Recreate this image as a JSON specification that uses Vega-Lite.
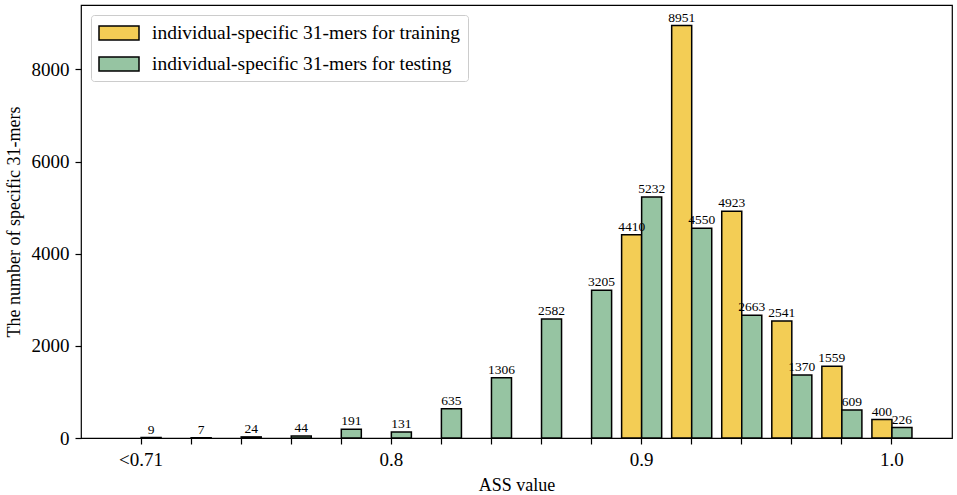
{
  "$schema": "https://vega.github.io/schema/vega-lite/v6.json",
  "width": 871,
  "height": 433,
  "autosize": "none",
  "padding": {"left": 81, "top": 5, "right": 5, "bottom": 57},
  "background": "white",
  "config": {
    "font": "Liberation Serif",
    "view": {"stroke": "black", "strokeWidth": 1.2},
    "axis": {
      "grid": false,
      "domain": false,
      "tickColor": "black",
      "tickSize": 6,
      "tickWidth": 1.2,
      "labelColor": "black",
      "labelFont": "Liberation Serif",
      "labelFontSize": 19,
      "titleFont": "Liberation Serif",
      "titleFontSize": 18,
      "titleFontWeight": "normal",
      "titleColor": "black"
    }
  },
  "data": {
    "values": [
      {"ass": "0.70", "set": "individual-specific 31-mers for testing", "count": 9},
      {"ass": "0.72", "set": "individual-specific 31-mers for testing", "count": 7},
      {"ass": "0.74", "set": "individual-specific 31-mers for testing", "count": 24},
      {"ass": "0.76", "set": "individual-specific 31-mers for testing", "count": 44},
      {"ass": "0.78", "set": "individual-specific 31-mers for testing", "count": 191},
      {"ass": "0.80", "set": "individual-specific 31-mers for testing", "count": 131},
      {"ass": "0.82", "set": "individual-specific 31-mers for testing", "count": 635},
      {"ass": "0.84", "set": "individual-specific 31-mers for testing", "count": 1306},
      {"ass": "0.86", "set": "individual-specific 31-mers for testing", "count": 2582},
      {"ass": "0.88", "set": "individual-specific 31-mers for testing", "count": 3205},
      {"ass": "0.90", "set": "individual-specific 31-mers for training", "count": 4410},
      {"ass": "0.90", "set": "individual-specific 31-mers for testing", "count": 5232},
      {"ass": "0.92", "set": "individual-specific 31-mers for training", "count": 8951},
      {"ass": "0.92", "set": "individual-specific 31-mers for testing", "count": 4550},
      {"ass": "0.94", "set": "individual-specific 31-mers for training", "count": 4923},
      {"ass": "0.94", "set": "individual-specific 31-mers for testing", "count": 2663},
      {"ass": "0.96", "set": "individual-specific 31-mers for training", "count": 2541},
      {"ass": "0.96", "set": "individual-specific 31-mers for testing", "count": 1370},
      {"ass": "0.98", "set": "individual-specific 31-mers for training", "count": 1559},
      {"ass": "0.98", "set": "individual-specific 31-mers for testing", "count": 609},
      {"ass": "1.00", "set": "individual-specific 31-mers for training", "count": 400},
      {"ass": "1.00", "set": "individual-specific 31-mers for testing", "count": 226}
    ]
  },
  "encoding": {
    "x": {
      "field": "ass",
      "type": "ordinal",
      "sort": null,
      "scale": {
        "domain": ["0.70", "0.72", "0.74", "0.76", "0.78", "0.80", "0.82", "0.84", "0.86", "0.88", "0.90", "0.92", "0.94", "0.96", "0.98", "1.00"],
        "paddingInner": 0.2,
        "paddingOuter": 0.8
      },
      "axis": {
        "title": "ASS value",
        "labelAngle": 0,
        "labelPadding": 6,
        "titlePadding": 7,
        "labelExpr": "datum.value == '0.70' ? '<0.71' : datum.value == '0.80' ? '0.8' : datum.value == '0.90' ? '0.9' : datum.value == '1.00' ? '1.0' : ''"
      }
    },
    "xOffset": {
      "field": "set",
      "type": "nominal",
      "scale": {
        "domain": ["individual-specific 31-mers for training", "individual-specific 31-mers for testing"],
        "paddingInner": 0,
        "paddingOuter": 0
      }
    },
    "y": {
      "field": "count",
      "type": "quantitative",
      "scale": {"domain": [0, 9398], "nice": false},
      "axis": {
        "title": "The number of specific 31-mers",
        "values": [0, 2000, 4000, 6000, 8000],
        "format": "d",
        "labelPadding": 6,
        "titlePadding": 8
      }
    }
  },
  "layer": [
    {
      "mark": {"type": "bar", "stroke": "black", "strokeWidth": 1.5},
      "encoding": {
        "color": {
          "field": "set",
          "type": "nominal",
          "scale": {
            "domain": ["individual-specific 31-mers for training", "individual-specific 31-mers for testing"],
            "range": ["#F3CD55", "#96C4A2"]
          },
          "legend": {
            "title": null,
            "orient": "top-left",
            "offset": 10,
            "padding": 7,
            "strokeColor": "#cccccc",
            "fillColor": "white",
            "cornerRadius": 3,
            "labelFont": "Liberation Serif",
            "labelFontSize": 19.5,
            "labelColor": "black",
            "labelLimit": 0,
            "labelOffset": 22,
            "rowPadding": 10,
            "symbolOffset": 10,
            "symbolType": "M-2,-0.7L2,-0.7L2,0.7L-2,0.7Z",
            "symbolSize": 400,
            "symbolStrokeColor": "black",
            "symbolStrokeWidth": 1.5,
            "symbolOpacity": 1
          }
        }
      }
    },
    {
      "mark": {"type": "text", "baseline": "bottom", "dy": -1, "fontSize": 13.5, "color": "black", "font": "Liberation Serif"},
      "encoding": {"text": {"field": "count", "type": "quantitative", "format": "d"}}
    }
  ]
}
